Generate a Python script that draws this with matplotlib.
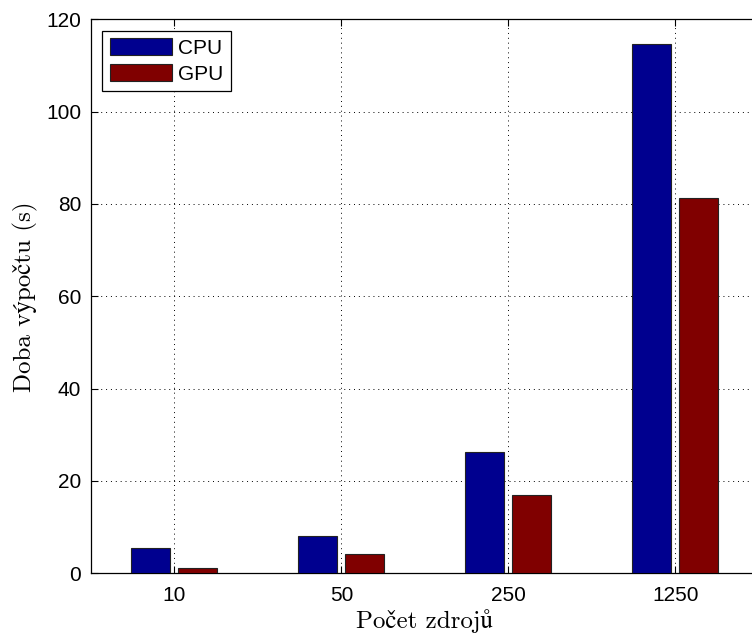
import numpy as np
import matplotlib
matplotlib.use('Agg')
import matplotlib.pyplot as plt

plt.rc('font', family=['Liberation Sans', 'DejaVu Sans'], size=15)

sources = ['10', '50', '250', '1250']
cpu_time = [5.5, 8.1, 26.3, 114.7]
gpu_time = [1.1, 4.1, 17.0, 81.3]

cpu_color = '#00008F'
gpu_color = '#800000'
serif = ['cmr10', 'STIXGeneral', 'DejaVu Serif']

fig = plt.figure(figsize=(7.52, 6.33), dpi=100)
# axes run a little past the right edge, so the right spine is cut off
ax = fig.add_axes([0.121, 0.0943, 0.888, 0.8752])

x = np.arange(1, len(sources) + 1)
w = 0.235
ax.bar(x - 0.144, cpu_time, w, color=cpu_color, edgecolor='#222222',
       linewidth=0.8, label='CPU', zorder=3)
ax.bar(x + 0.137, gpu_time, w, color=gpu_color, edgecolor='#222222',
       linewidth=0.8, label='GPU', zorder=3)

ax.set_xlim(0.5, 4.5)
ax.set_ylim(0, 120)
ax.set_xticks(x)
ax.set_xticklabels(sources)
ax.set_yticks(np.arange(0, 121, 20))

ax.set_axisbelow(True)
ax.grid(True, linestyle=(0, (1, 4)), color='black', linewidth=0.7)
ax.tick_params(direction='in', top=True, right=True, length=5, width=0.8)
ax.tick_params(axis='y', pad=7)
ax.tick_params(axis='x', pad=9)
for sp in ax.spines.values():
    sp.set_linewidth(0.9)

ax.set_xlabel('Počet zdrojů', family=serif, fontsize=18, labelpad=3)
ax.set_ylabel('Doba výpočtu (s)', family=serif, fontsize=18, labelpad=6)

leg = ax.legend(loc='upper left', fontsize=15, handlelength=3.0,
                handleheight=0.9, handletextpad=0.3, borderpad=0.35,
                labelspacing=0.3, borderaxespad=0.55, fancybox=False,
                framealpha=1, edgecolor='black')
leg.get_frame().set_linewidth(0.9)

fig.savefig('out.png', dpi=100)
